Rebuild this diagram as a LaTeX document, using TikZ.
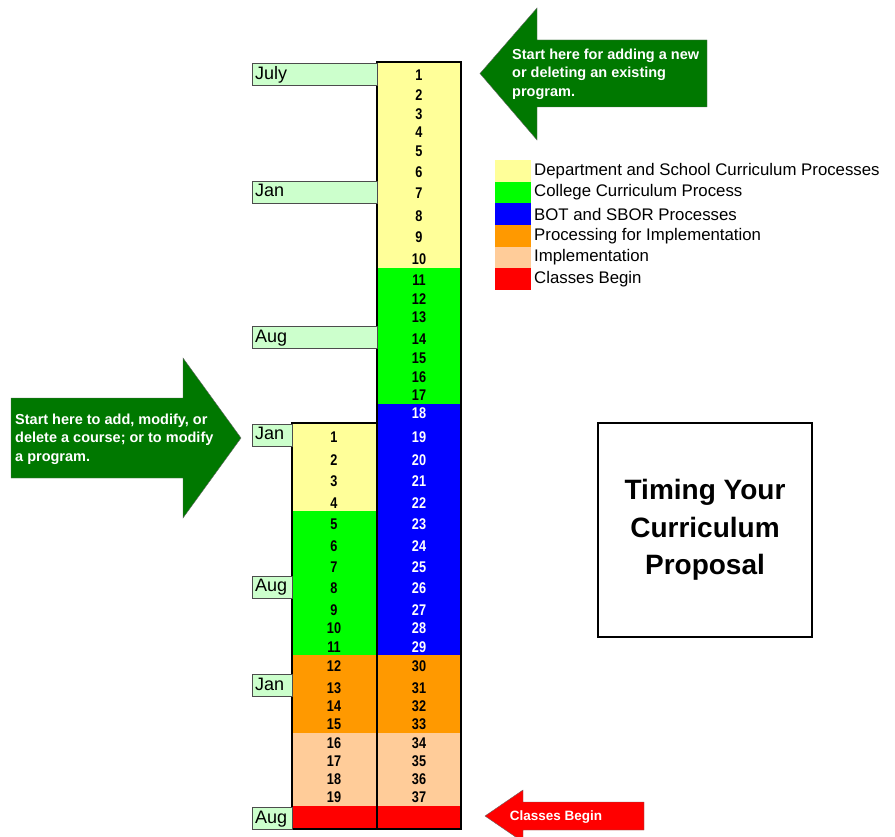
\documentclass[tikz,border=0pt]{standalone}
\usepackage{fontspec}
\setmainfont{Liberation Sans}
\newfontfamily\narrowsans[FakeStretch=0.82]{Liberation Sans}
\usetikzlibrary{calc}
\definecolor{paleyellow}{HTML}{FFFF99}
\definecolor{brightgreen}{HTML}{00FF00}
\definecolor{brightblue}{HTML}{0000FF}
\definecolor{amber}{HTML}{FF9900}
\definecolor{peach}{HTML}{FFCC99}
\definecolor{brightred}{HTML}{FF0000}
\definecolor{arrowgreen}{HTML}{007800}
\definecolor{mint}{HTML}{CCFFCC}

\begin{document}
\begin{tikzpicture}[x=1pt, y=-1pt,
  num/.style={font=\fontsize{15.5}{15.5}\selectfont\bfseries\narrowsans, inner sep=0pt},
  month/.style={draw=black!70, fill=mint, anchor=west, inner xsep=3pt, inner ysep=0pt, minimum height=22pt, text height=13pt, text depth=3.5pt, font=\fontsize{18}{18}\selectfont, align=left},
  callout/.style={text=white, font=\fontsize{14.5}{18.5}\selectfont\bfseries, align=left, anchor=west, inner sep=0pt},
  key/.style={anchor=west, inner sep=0pt, font=\fontsize{16.8}{16.8}\selectfont}]
\useasboundingbox (0,0) rectangle (895,837);
\foreach \ya/\yb/\c in {62/268/paleyellow, 268/404/brightgreen, 404/655/brightblue, 655/733/amber, 733/806/peach, 806/829/brightred}
 \fill[\c] (377,\ya) rectangle (461,\yb);
\foreach \ya/\yb/\c in {423/511/paleyellow, 511/655/brightgreen, 655/733/amber, 733/806/peach, 806/829/brightred}
 \fill[\c] (292,\ya) rectangle (377,\yb);
\draw[line width=2pt] (377,62) rectangle (461,829);
\draw[line width=2pt] (292,423) rectangle (377,829);
\foreach \y [count=\i] in {75,95,114,132,151,172,193,216,237,259,280,299,317,339,358,377,395,413,437,460,481,503,524,546,567,588,610,628,647,666,688,706,724,743,761,779,797} {
 \ifnum\i>17 \ifnum\i<30 \def\tc{white}\else\def\tc{black}\fi\else\def\tc{black}\fi
 \node[num, text=\tc] (r\i) at (419,\y) {\i};
}
\foreach \y [count=\i] in {437,460,481,503,524,546,567,588,610,628,647,666,688,706,724,743,761,779,797}
 \node[num] (l\i) at (334,\y) {\i};
\node[month, text width=119pt] (m1) at (252,74.5) {July};
\node[month, text width=119pt] (m2) at (252,192) {Jan};
\node[month, text width=119pt] (m3) at (252,337.5) {Aug};
\node[month, text width=34pt] (m4) at (252,435) {Jan};
\node[month, text width=34pt] (m5) at (252,587) {Aug};
\node[month, text width=34pt] (m6) at (252,685.5) {Jan};
\node[month, text width=34pt] (m7) at (252,818.5) {Aug};
\draw[fill=arrowgreen, draw=black!60] (707,40) -- (537,40) -- (537,8) -- (480,73.5) -- (537,140) -- (537,107) -- (707,107) -- cycle;
\node[callout] (newprog) at (512,74) {Start here for adding a new\\or deleting an existing\\program.};
\draw[fill=arrowgreen, draw=black!60] (11,398) -- (183,398) -- (183,358) -- (241,438) -- (183,518) -- (183,478) -- (11,478) -- cycle;
\node[callout] (course) at (15,439) {Start here to add, modify, or\\delete a course; or to modify\\a program.};
\draw[fill=brightred, draw=black!60] (644,802) -- (523,802) -- (523,790) -- (485,816) -- (523,842) -- (523,830) -- (644,830) -- cycle;
\node[callout, anchor=center, font=\fontsize{13.5}{13.5}\selectfont\bfseries] (classes) at (556,817) {Classes Begin};
\foreach \c/\t [count=\i] in {paleyellow/Department and School Curriculum Processes, brightgreen/College Curriculum Process, brightblue/BOT and SBOR Processes, amber/Processing for Implementation, peach/Implementation, brightred/Classes Begin} {
 \fill[\c] (495,{160+21.67*(\i-1)}) rectangle ++(36,21.67);
 \node[key] (key\i) at (534,{170.8+21.67*(\i-1)}) {\t};
}
\draw[line width=1.5pt] (598,423) rectangle (812,637);
\node[font=\fontsize{28}{37.5}\selectfont\bfseries, align=center] (title) at (705,530) {Timing Your\\Curriculum\\Proposal};
\end{tikzpicture}
\end{document}
